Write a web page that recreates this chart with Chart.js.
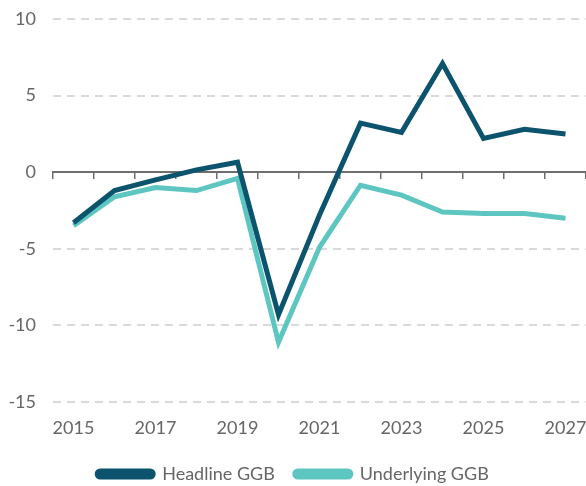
<!DOCTYPE html>
<html>
<head>
<meta charset="UTF-8">
<script src="https://cdn.jsdelivr.net/npm/chart.js@4/dist/chart.umd.min.js"></script>
<style>
  html, body { margin: 0; padding: 0; background: #fff; }
  #wrap { width: 586px; height: 486px; }
</style>
</head>
<body>
<div id="wrap"><canvas id="mychart"></canvas></div>
<script>
const years = ['2015', '2016', '2017', '2018', '2019', '2020', '2021', '2022', '2023', '2024', '2025', '2026', '2027'];
const headline = [-3.3, -1.2, -0.5, 0.15, 0.65, -9.3, -2.8, 3.2, 2.6, 7.1, 2.2, 2.8, 2.5];
const underlying = [-3.5, -1.6, -1.0, -1.2, -0.4, -11.1, -4.9, -0.85, -1.5, -2.6, -2.7, -2.7, -3.0];
const yTicks = [-15, -10, -5, 0, 5, 10];

const textColor = '#666666';
const font = { family: 'Lato', size: 18 };

new Chart(document.getElementById('mychart'), {
    type: 'line',
    data: {
        labels: years,
        datasets: [{
            label: 'Headline GGB',
            data: headline,
            borderColor: '#0c536e',
            backgroundColor: '#0c536e',
            borderWidth: 5,
            pointRadius: 0,
            tension: 0
        }, {
            label: 'Underlying GGB',
            data: underlying,
            borderColor: '#5ec6c0',
            backgroundColor: '#5ec6c0',
            borderWidth: 5,
            pointRadius: 0,
            tension: 0
        }]
    },
    options: {
        responsive: true,
        maintainAspectRatio: false,
        animation: false,
        layout: { padding: { top: 19, left: 0, right: 0, bottom: -7 } },
        plugins: {
            tooltip: { enabled: false },
            legend: {
                position: 'bottom',
                labels: {
                    font: font,
                    color: textColor,
                    boxWidth: 56,
                    boxHeight: 6,
                    useBorderRadius: true,
                    borderRadius: 3,
                    padding: 20
                }
            }
        },
        scales: {
            x: {
                offset: true,
                grid: { display: false },
                border: { display: false },
                ticks: {
                    font: font,
                    color: textColor,
                    autoSkip: false,
                    maxRotation: 0,
                    padding: 7,
                    callback: function (v, i) { return i % 2 === 0 ? years[i] : ''; }
                },
                afterFit: function (scale) {
                    scale.paddingLeft = 0;
                    scale.paddingRight = 0;
                    scale.height = 43;
                }
            },
            x2: {
                type: 'category',
                position: { y: 0 },
                offset: true,
                grid: {
                    offset: true,
                    drawOnChartArea: false,
                    drawTicks: true,
                    tickLength: 6,
                    color: '#6e6e6e',
                    lineWidth: 1.5
                },
                border: { display: true, color: '#6e6e6e', width: 2 },
                ticks: { display: false },
                afterFit: function (scale) {
                    scale.paddingLeft = 0;
                    scale.paddingRight = 0;
                }
            },
            y: {
                min: -15,
                max: 10,
                afterBuildTicks: function (axis) {
                    axis.ticks = yTicks.map(v => ({ value: v }));
                },
                afterFit: function (scale) {
                    scale.width = 53;
                    scale.paddingTop = 0;
                    scale.paddingBottom = 0;
                },
                border: { display: false, dash: [8, 6] },
                grid: {
                    color: ctx => ctx.tick && ctx.tick.value === 0 ? 'rgba(0,0,0,0)' : '#d9d9d9',
                    lineWidth: 2,
                    drawTicks: false
                },
                ticks: {
                    font: font,
                    color: textColor,
                    padding: 17
                }
            }
        }
    }
});
</script>
</body>
</html>
